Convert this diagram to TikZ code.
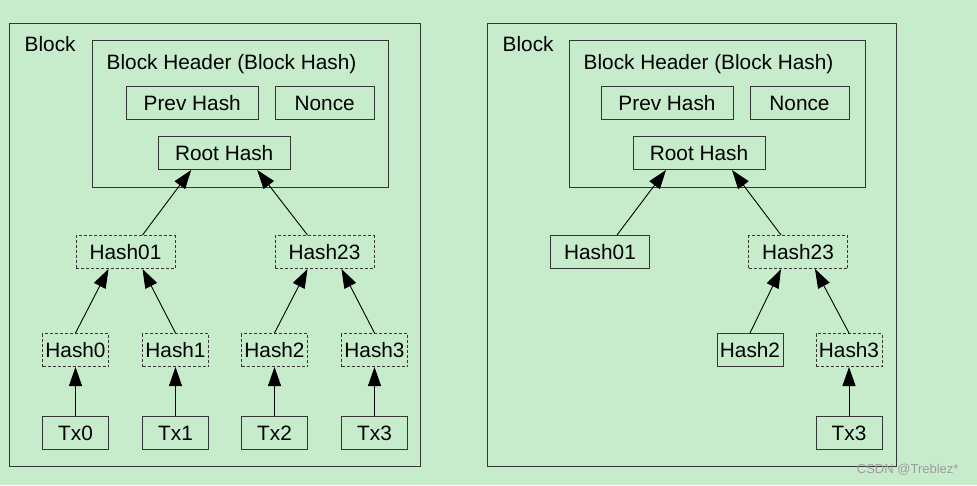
\documentclass[tikz,border=0pt]{standalone}
\usepackage{fontspec}
\setmainfont{Liberation Sans}
\usetikzlibrary{arrows.meta, positioning, calc}
\definecolor{pagegreen}{HTML}{C7ECCC}
\definecolor{boxline}{HTML}{353535}
\definecolor{markgray}{HTML}{9C9C9C}

\begin{document}
\begin{tikzpicture}[
      x=1pt, y=1pt,
      font=\fontsize{20.8}{24}\selectfont,
      cell/.style={draw=boxline, line width=1pt, minimum height=33pt,
        inner sep=0pt, text height=15pt, text depth=0pt},
      small/.style={cell, minimum width=66pt},
      mid/.style={cell, minimum width=99pt},
      wide/.style={cell, minimum width=132pt},
      ghost/.style={dash pattern=on 3pt off 2pt},
      frame/.style={draw=boxline, line width=1pt, anchor=north west,
        inner sep=0pt},
      caption/.style={anchor=base west, inner sep=0pt},
      link/.style={draw=black, line width=0.9pt,
        -{Triangle[length=19pt, width=13pt, fill=black]}},
      >=Triangle
    ]
      \fill[pagegreen] (0,0) rectangle (977,-485);
      \useasboundingbox (0,0) rectangle (977,-485);

      % full tree
      \node[frame, minimum width=411pt, minimum height=443pt] (lblock) at (9,-23) {};
      \node[caption] (lblocktext) at (24.5,-51.5) {Block};
      \node[frame, minimum width=296pt, minimum height=147pt] (lheader) at (92,-40) {};
      \node[caption] (lheadertext) at (106.5,-69) {Block Header (Block Hash)};

      \node[small] (ltx0) at (75.5,-433) {Tx0};
      \node[small, right=33pt of ltx0] (ltx1) {Tx1};
      \node[small, right=32pt of ltx1] (ltx2) {Tx2};
      \node[small, right=33pt of ltx2] (ltx3) {Tx3};
      \node[small, ghost, above=49pt of ltx0] (lh0) {Hash0};
      \node[small, ghost, above=49pt of ltx1] (lh1) {Hash1};
      \node[small, ghost, above=49pt of ltx2] (lh2) {Hash2};
      \node[small, ghost, above=49pt of ltx3] (lh3) {Hash3};
      \node[mid, ghost] (lh01) at ($(lh0)!0.5!(lh1)+(0,98)$) {Hash01};
      \node[mid, ghost] (lh23) at ($(lh2)!0.5!(lh3)+(0,98)$) {Hash23};
      \node[wide] (lroot) at ($(lh01)!0.5!(lh23)+(-0.8,99)$) {Root Hash};
      \node[wide, above=16pt of lroot, xshift=-32pt] (lprev) {Prev Hash};
      \node[mid, right=16pt of lprev] (lnonce) {Nonce};

      \draw[link] (ltx0) -- (lh0);
      \draw[link] (ltx1) -- (lh1);
      \draw[link] (ltx2) -- (lh2);
      \draw[link] (ltx3) -- (lh3);
      \draw[link] (lh0.north) -- ([xshift=-17pt]lh01.south);
      \draw[link] (lh1.north) -- ([xshift=17pt]lh01.south);
      \draw[link] (lh2.north) -- ([xshift=-17pt]lh23.south);
      \draw[link] (lh3.north) -- ([xshift=17pt]lh23.south);
      \draw[link] ([xshift=17pt]lh01.north) -- ([xshift=-33pt]lroot.south);
      \draw[link] ([xshift=-17pt]lh23.north) -- ([xshift=33pt]lroot.south);

      % pruned tree, proof for Tx3
      \begin{scope}[xshift=477pt]
        \node[frame, minimum width=409pt, minimum height=443pt] (rblock) at (10,-23) {};
        \node[caption] (rblocktext) at (25.5,-51.5) {Block};
        \node[frame, minimum width=296pt, minimum height=147pt] (rheader) at (92,-40) {};
        \node[caption] (rheadertext) at (106.5,-69) {Block Header (Block Hash)};

        \node[small] (rtx3) at (372,-433) {Tx3};
        \node[small, ghost, above=49pt of rtx3] (rh3) {Hash3};
        \node[small, left=32pt of rh3] (rh2) {Hash2};
        \node[mid, ghost] (rh23) at ($(rh2)!0.5!(rh3)+(-1.5,98)$) {Hash23};
        \node[mid, left=98pt of rh23] (rh01) {Hash01};
        \node[wide] (rroot) at ($(rh01)!0.5!(rh23)+(0,99)$) {Root Hash};
        \node[wide, above=16pt of rroot, xshift=-32pt] (rprev) {Prev Hash};
        \node[mid, right=16pt of rprev] (rnonce) {Nonce};

        \draw[link] (rtx3) -- (rh3);
        \draw[link] (rh2.north) -- ([xshift=-17pt]rh23.south);
        \draw[link] (rh3.north) -- ([xshift=17pt]rh23.south);
        \draw[link] ([xshift=17pt]rh01.north) -- ([xshift=-33pt]rroot.south);
        \draw[link] ([xshift=-17pt]rh23.north) -- ([xshift=33pt]rroot.south);
      \end{scope}

      \node[markgray, anchor=east, font=\fontsize{13}{15}\selectfont] (mark)
        at (962,-470) {CSDN @Treblez*};
    \end{tikzpicture}
\end{document}
